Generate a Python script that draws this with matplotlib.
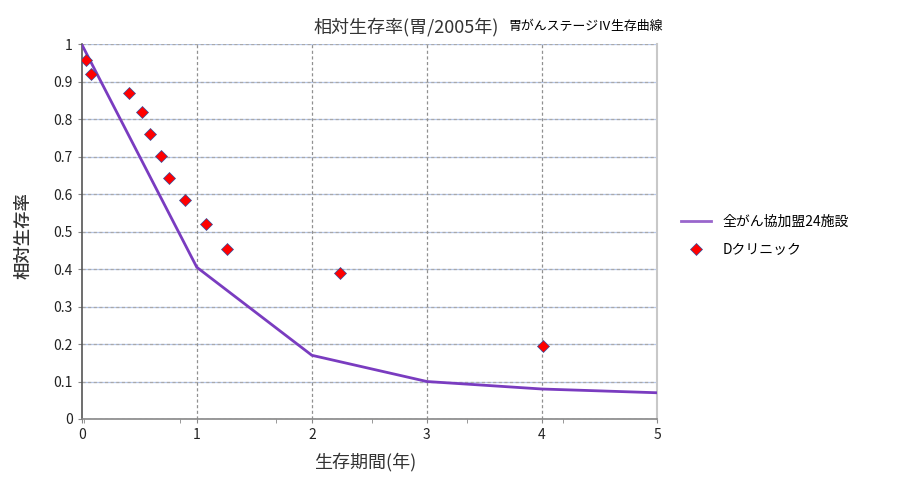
import matplotlib
matplotlib.use("Agg")
import matplotlib.pyplot as plt
import numpy as np

plt.rcParams['font.family'] = ['Noto Sans CJK JP', 'DejaVu Sans']

# data
line_x = [0, 1, 2, 3, 4, 5]
line_y = [1.0, 0.405, 0.17, 0.10, 0.08, 0.07]
clinic_x = [0.037, 0.078, 0.414, 0.524, 0.596, 0.689, 0.761, 0.894, 1.079, 1.262, 2.248, 4.01]
clinic_y = [0.957, 0.92, 0.870, 0.820, 0.761, 0.702, 0.644, 0.585, 0.521, 0.454, 0.390, 0.195]
xticks = [0, 1, 2, 3, 4, 5]
yticks = [0, 0.1, 0.2, 0.3, 0.4, 0.5, 0.6, 0.7, 0.8, 0.9, 1.0]
ytick_labels = ['0', '0.1', '0.2', '0.3', '0.4', '0.5', '0.6', '0.7', '0.8', '0.9', '1']
minor_x = [0.02, 0.855, 1.69, 2.52, 3.35, 4.18]
series_names = ['全がん協加盟24施設', 'Dクリニック']

fig = plt.figure(figsize=(9.09, 4.86), dpi=100)
ax = fig.add_axes([0.0899, 0.1379, 0.6329, 0.7709])
ax.set_xlim(0, 5)
ax.set_ylim(0, 1)

for yv in yticks:
    ax.axhline(yv, color='#b8c9ec', lw=0.9, zorder=0.5)
    ax.axhline(yv, color='#a8a8a8', lw=0.9, ls=(0, (2.5, 2)), zorder=0.6)
for xv in xticks[1:-1]:
    ax.axvline(xv, color='#909090', lw=0.9, ls=(0, (2.5, 2)), zorder=0.6)

ax.plot(line_x, line_y, color='#7a3cc0', lw=2.0, label=series_names[0], zorder=3,
        solid_joinstyle='miter')
ax.plot(clinic_x, clinic_y, ls='none', marker='D', markersize=6.5, markerfacecolor='#ff0000',
        markeredgecolor='#3050a0', markeredgewidth=0.5, label=series_names[1], zorder=4)

ax.set_xticks(xticks)
ax.set_xticklabels([str(v) for v in xticks])
ax.set_xticks(minor_x, minor=True)
ax.set_yticks(yticks)
ax.set_yticklabels(ytick_labels)
ax.tick_params(axis='both', labelsize=10, colors='#222222', length=3, width=0.8)
ax.tick_params(axis='x', which='minor', length=3, color='#888888')
ax.tick_params(axis='x', color='#888888')
ax.tick_params(axis='y', color='#888888')

ax.spines['top'].set_visible(False)
ax.spines['left'].set_color('#555555')
ax.spines['left'].set_linewidth(1.2)
ax.spines['bottom'].set_color('#888888')
ax.spines['bottom'].set_linewidth(1.2)
ax.spines['right'].set_color('#c8c8c8')
ax.spines['right'].set_linewidth(1.5)

ax.set_xlabel('生存期間(年)', fontsize=13, color='#333333')
ax.xaxis.set_label_coords(0.493, -0.09)
ax.set_ylabel('相対生存率', fontsize=12.5, color='#333333', fontweight='medium')
ax.yaxis.set_label_coords(-0.085, 0.49)

fig.text(0.447, 0.945, '相対生存率(胃/2005年)', fontsize=13, color='#333333', ha='center', va='center')
fig.text(0.559, 0.945, '胃がんステージⅣ生存曲線', fontsize=9.3, color='#000000', ha='left', va='center')

leg = fig.legend(loc='center left', bbox_to_anchor=(0.735, 0.515), frameon=False, fontsize=10,
                 handlelength=2.2, labelspacing=1.0)
leg.get_lines()[0].set_color('#9966cc')

fig.savefig('out.png', dpi=100)
